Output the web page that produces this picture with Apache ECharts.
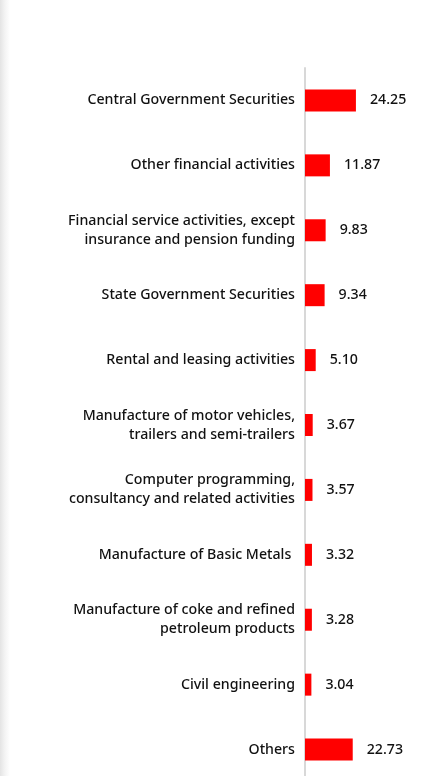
<!DOCTYPE html>
<html>
<head>
<meta charset="utf-8">
<script src="https://cdn.jsdelivr.net/npm/echarts@6/dist/echarts.min.js"></script>
<style>
html,body{margin:0;padding:0;background:#fff;}
body{width:440px;height:776px;overflow:hidden;position:relative;}
#shadow{position:absolute;left:0;top:0;width:10px;height:776px;background:linear-gradient(to right,#e4e4e4,#f4f4f4 50%,#ffffff);z-index:2;}
#chart{position:absolute;left:0;top:0;width:440px;height:776px;}
</style>
</head>
<body>
<div id="shadow"></div>
<div id="chart"></div>
<script>
const categories = [
  "Central Government Securities",
  "Other financial activities",
  "Financial service activities, except\ninsurance and pension funding",
  "State Government Securities",
  "Rental and leasing activities",
  "Manufacture of motor vehicles,\ntrailers and semi-trailers",
  "Computer programming,\nconsultancy and related activities",
  "Manufacture of Basic Metals ",
  "Manufacture of coke and refined\npetroleum products",
  "Civil engineering",
  "Others"
];
const values = [24.25, 11.87, 9.83, 9.34, 5.10, 3.67, 3.57, 3.32, 3.28, 3.04, 22.73];

const chart = echarts.init(document.getElementById('chart'), null, {renderer: 'canvas'});
const FONT = 'Noto Sans';
chart.setOption({
  animation: false,
  grid: {left: 305, right: 9, top: 68, height: 714, containLabel: false, outerBoundsMode: 'none'},
  xAxis: {
    type: 'value', min: 0, max: 60, show: false
  },
  yAxis: {
    type: 'category', data: categories, inverse: true,
    axisLine: {show: true, lineStyle: {color: '#d8d8d8', width: 2}},
    axisTick: {show: false},
    axisLabel: {
      margin: 10, color: '#111', fontSize: 14.2, fontWeight: 500, fontFamily: FONT, align: 'right', lineHeight: 19
    }
  },
  series: [{
    type: 'bar', data: values, barWidth: 22,
    itemStyle: {color: '#ff0000'},
    label: {
      show: true, position: 'right', distance: 14,
      color: '#111', fontSize: 14.2, fontWeight: 500, fontFamily: FONT,
      formatter: p => p.value.toFixed(2)
    }
  }]
});
</script>
</body>
</html>
